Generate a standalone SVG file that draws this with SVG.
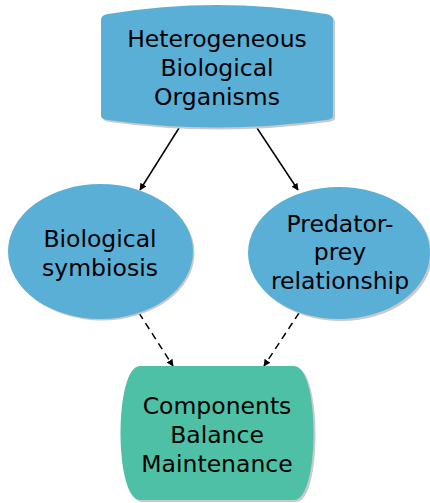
<svg xmlns="http://www.w3.org/2000/svg" width="430" height="503" viewBox="0 0 430 503">
  <style>
    .lbl { font-family: "DejaVu Sans", Verdana, sans-serif; font-size: 23.5px; fill: #000; text-anchor: middle; }
    .blue { fill: #5aafd7; }
    .green { fill: #4dc0a6; }
    .shadow { fill: #c9c9c9; }
    .edge { stroke: #000; stroke-width: 1.5; fill: none; }
    .dash { stroke-dasharray: 7 5; }
  </style>
  <defs>
    <marker id="arrow" viewBox="0 0 10 10" refX="9" refY="5" markerWidth="7" markerHeight="7" orient="auto" markerUnits="userSpaceOnUse">
      <path d="M0,0 L10,5 L0,10 Z" fill="#000"/>
    </marker>
  </defs>

  <rect width="430" height="503" fill="#fff"/>

  <!-- connectors -->
  <g id="connectors">
    <line class="edge" x1="179" y1="128" x2="140" y2="190" marker-end="url(#arrow)"/>
    <line class="edge" x1="257" y1="128" x2="298" y2="190" marker-end="url(#arrow)"/>
    <line class="edge dash" x1="139" y1="313" x2="173" y2="366" marker-end="url(#arrow)"/>
    <line class="edge dash" x1="299" y1="313" x2="264" y2="366" marker-end="url(#arrow)"/>
  </g>

  <!-- top node: banner shape with convex top and bottom, softly rounded corners -->
  <g id="organisms">
    <path class="shadow" d="M103,22 Q103,17 110,16 Q219,-2 328,16 Q335,17 335,22 L335,118 Q335,121 328,122 Q219,137 110,122 Q103,121 103,118 Z"/>
    <path class="blue" d="M101,20 Q101,15 108,14 Q217,-4 326,14 Q333,15 333,20 L333,116 Q333,119 326,120 Q217,135 108,120 Q101,119 101,116 Z"/>
    <text class="lbl" x="217" y="47">Heterogeneous</text>
    <text class="lbl" x="217" y="76">Biological</text>
    <text class="lbl" x="217" y="105">Organisms</text>
  </g>

  <g id="symbiosis">
    <ellipse class="shadow" cx="102" cy="253" rx="92.5" ry="67.5"/>
    <ellipse class="blue" cx="100.5" cy="251.5" rx="92.5" ry="67.5"/>
    <text class="lbl" x="100" y="247">Biological</text>
    <text class="lbl" x="100" y="276">symbiosis</text>
  </g>

  <g id="predator">
    <ellipse class="shadow" cx="341" cy="255" rx="91" ry="66"/>
    <ellipse class="blue" cx="339" cy="253" rx="91" ry="66"/>
    <text class="lbl" x="340" y="232">Predator-</text>
    <text class="lbl" x="340" y="260">prey</text>
    <text class="lbl" x="340" y="289">relationship</text>
  </g>

  <!-- bottom node: straight top/bottom, bulging sides -->
  <g id="balance">
    <path class="shadow" d="M142,368 L296,368 C322,368 322,502 296,502 L142,502 C116,502 116,368 142,368 Z"/>
    <path class="green" d="M140,366 L294,366 C320,366 320,500 294,500 L140,500 C114,500 114,366 140,366 Z"/>
    <text class="lbl" x="217" y="414">Components</text>
    <text class="lbl" x="217" y="443">Balance</text>
    <text class="lbl" x="217" y="472">Maintenance</text>
  </g>
</svg>
